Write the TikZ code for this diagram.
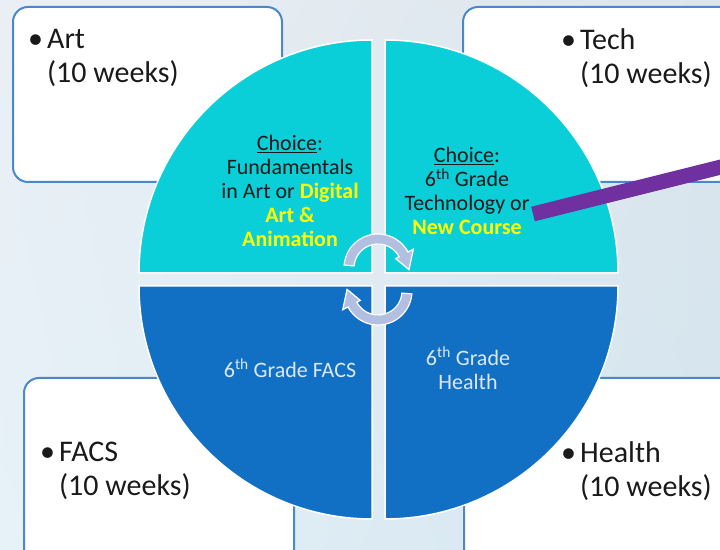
\documentclass[tikz,border=0pt]{standalone}
\usepackage{fontspec}
\setmainfont{Carlito}
\usepackage{tikz}
\usetikzlibrary{calc,positioning,shadings}
\usepackage{xcolor}
\definecolor{bgA}{HTML}{E9EFF5}
\definecolor{bgB}{HTML}{DCE5EC}
\definecolor{bgC}{HTML}{E6F1F8}
\definecolor{bgD}{HTML}{D3E5EF}
\definecolor{quadcyan}{HTML}{0BCFD8}
\definecolor{quadblue}{HTML}{116FC4}
\definecolor{boxline}{HTML}{4A87CB}
\definecolor{arrowfill}{HTML}{B3BFE0}
\definecolor{hilite}{HTML}{FFFF00}
\definecolor{pointerpurple}{HTML}{7030A0}
\definecolor{darktext}{HTML}{1A1A1A}
\definecolor{lighttext}{HTML}{DCE8F5}
\newcommand{\yel}[1]{\textbf{\textcolor{hilite}{#1}}}
\newcommand{\bul}{\textbullet\hspace{4pt}}

\begin{document}
\begin{tikzpicture}[x=1pt,y=1pt,
  quad/.style={draw=white,line width=1.5pt},
  course/.style={draw=boxline,line width=2pt,fill=white,rounded corners=15pt},
  boxtext/.style={anchor=north west,inner sep=0pt,align=left,font=\fontsize{30}{34}\selectfont,text=darktext},
  quadtext/.style={inner sep=0pt,align=center,font=\fontsize{22}{24}\selectfont},
  spin/.style={fill=arrowfill,draw=white,line width=1.2pt},
  pointer/.style={line width=15pt,draw=pointerpurple}]
  % page and soft background
  \useasboundingbox (0,0) rectangle (720,549);
  \clip (0,0) rectangle (720,549);
  \shade[upper left=bgA,upper right=bgB,lower left=bgC,lower right=bgD] (0,0) rectangle (720,549);

  % the four course boxes behind the wheel
  \draw[course] (13,367) rectangle (282,542);
  \draw[course] (463,367) rectangle (745,542);
  \draw[course] (24,-20) rectangle (294,171);
  \draw[course] (464,-20) rectangle (745,171);
  \node[boxtext] (art) at (28,520) {\bul Art\\\hphantom{\bul}(10 weeks)};
  \node[boxtext] (tech) at (561,521) {\bul Tech\\\hphantom{\bul}(10 weeks)};
  \node[boxtext] (facs) at (40,107) {\bul FACS\\\hphantom{\bul}(10 weeks)};
  \node[boxtext] (health) at (561,108) {\bul Health\\\hphantom{\bul}(10 weeks)};

  % wheel in four quarters
  \coordinate (tl) at (372,276);
  \coordinate (tr) at (385,276);
  \coordinate (bl) at (372,263);
  \coordinate (br) at (385,263);
  \filldraw[quad,fill=quadcyan] (tl) -- ++(-233,0) arc[start angle=180,end angle=90,radius=233] -- cycle;
  \filldraw[quad,fill=quadcyan] (tr) -- ++(0,233) arc[start angle=90,end angle=0,radius=233] -- cycle;
  \filldraw[quad,fill=quadblue] (bl) -- ++(-233,0) arc[start angle=180,end angle=270,radius=233] -- cycle;
  \filldraw[quad,fill=quadblue] (br) -- ++(233,0) arc[start angle=0,end angle=-90,radius=233] -- cycle;

  \node[quadtext,text=darktext] (artchoice) at (290,358)
    {\underline{Choice}:\\Fundamentals\\in Art or \yel{Digital}\\\yel{Art \&}\\\yel{Animation}};
  \node[quadtext,text=darktext] (techchoice) at (467,358)
    {\underline{Choice}:\\6\textsuperscript{th} Grade\\Technology or\\\yel{New Course}};
  \node[quadtext,text=lighttext] (facsgrade) at (290,181) {6\textsuperscript{th} Grade FACS};
  \node[quadtext,text=lighttext] (healthgrade) at (468,181) {6\textsuperscript{th} Grade\\Health};

  % turning arrows in the middle
  \coordinate (spintop) at (378,281);
  \coordinate (spinbot) at (378,258);
  \foreach \c/\a in {spintop/0,spinbot/180}
    \filldraw[spin] ($(\c)+(175+\a:34)$) arc[start angle=175+\a,end angle=28+\a,radius=34]
      -- ($(\c)+(28+\a:40)$) -- ($(\c)+(-3+\a:31)$) -- ($(\c)+(28+\a:20)$)
      -- ($(\c)+(28+\a:24)$) arc[start angle=28+\a,end angle=175+\a,radius=24] -- cycle;

  % pointer bar
  \coordinate (barstart) at (533,335);
  \coordinate (barend) at (745,388);
  \draw[pointer] (barstart) -- (barend);
\end{tikzpicture}
\end{document}
